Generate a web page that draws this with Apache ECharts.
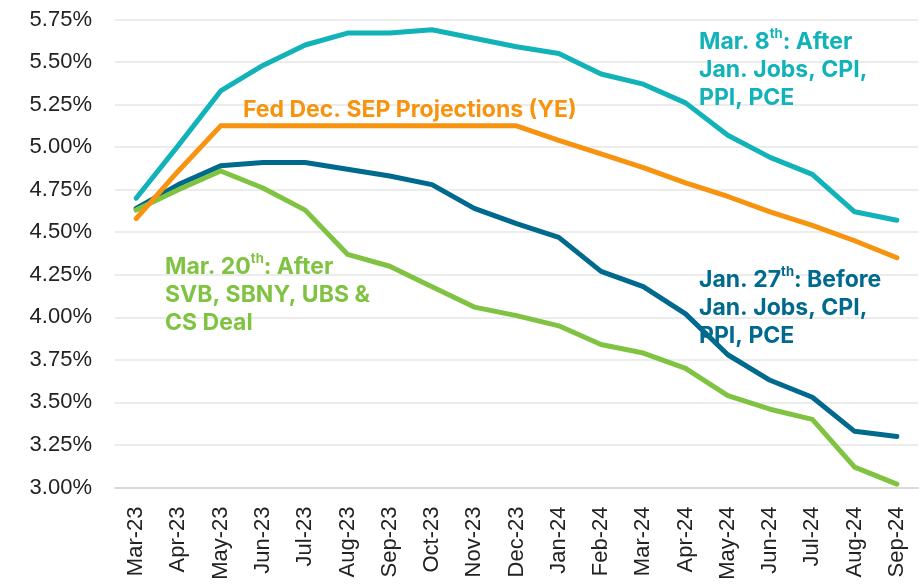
<!DOCTYPE html>
<html>
<head>
<meta charset="utf-8">
<script src="https://cdn.jsdelivr.net/npm/echarts@6/dist/echarts.min.js"></script>
<style>
html,body{margin:0;padding:0;background:#fff;}
#chart{width:920px;height:585px;}
</style>
</head>
<body>
<div id="chart"></div>
<script>
const categories = ['Mar-23','Apr-23','May-23','Jun-23','Jul-23','Aug-23','Sep-23','Oct-23','Nov-23','Dec-23','Jan-24','Feb-24','Mar-24','Apr-24','May-24','Jun-24','Jul-24','Aug-24','Sep-24'];
const mar8 = [4.70,5.01,5.33,5.48,5.60,5.67,5.67,5.69,5.64,5.59,5.55,5.43,5.37,5.26,5.07,4.94,4.84,4.62,4.57];
const fedSep = [4.58,4.86,5.125,5.125,5.125,5.125,5.125,5.125,5.125,5.125,5.04,4.96,4.88,4.79,4.71,4.62,4.54,4.45,4.35];
const jan27 = [4.64,4.78,4.89,4.91,4.91,4.87,4.83,4.78,4.64,4.55,4.47,4.27,4.18,4.02,3.78,3.63,3.53,3.33,3.30];
const mar20 = [4.63,4.75,4.86,4.76,4.63,4.37,4.30,4.18,4.06,4.01,3.95,3.84,3.79,3.70,3.54,3.46,3.40,3.12,3.02];
const yTicks = {min:3.00, max:5.75, interval:0.25};

const C_TEAL='#12b2b9', C_ORANGE='#f7930f', C_BLUE='#006a8e', C_GREEN='#80c342';
const FONT='Inter';

function lineSeries(name, data, color, z){
  return {name, type:'line', data, symbol:'none', z,
    lineStyle:{color, width:5, cap:'round', join:'round'}, animation:false};
}
function annot(text, left, top, color){
  return {type:'text', left, top, z:10,
    style:{text, fill:color, fontFamily:FONT, fontWeight:700, fontSize:23, lineHeight:28,
      rich:{sup:{fontFamily:FONT, fontWeight:700, fontSize:13, fill:color, verticalAlign:'top', lineHeight:18}}}};
}

const chart = echarts.init(document.getElementById('chart'), null, {renderer:'canvas'});
chart.setOption({
  animation:false,
  backgroundColor:'#ffffff',
  grid:{left:115, right:2, top:19.5, bottom:97.5},
  xAxis:{type:'category', data:categories, boundaryGap:true,
    axisLine:{lineStyle:{color:'#d9d9d9', width:2}}, axisTick:{show:false},
    axisLabel:{rotate:90, margin:19, color:'#222', fontFamily:'Liberation Sans', fontSize:22, interval:0}},
  yAxis:{type:'value', min:yTicks.min, max:yTicks.max, interval:yTicks.interval,
    axisLine:{show:false}, axisTick:{show:false},
    splitLine:{lineStyle:{color:'#ececec', width:2}},
    axisLabel:{margin:23, color:'#222', fontFamily:'Liberation Sans', fontSize:22,
      formatter:v=>v.toFixed(2)+'%'}},
  series:[
    lineSeries('Mar. 8th', mar8, C_TEAL, 2),
    lineSeries('Jan. 27th', jan27, C_BLUE, 3),
    lineSeries('Mar. 20th', mar20, C_GREEN, 4),
    lineSeries('Fed Dec. SEP', fedSep, C_ORANGE, 5)
  ],
  graphic:[
    annot('Fed Dec. SEP Projections (YE)', 243, 96, C_ORANGE),
    annot('Mar. 8{sup|th}: After\nJan. Jobs, CPI,\nPPI, PCE', 699, 28, C_TEAL),
    annot('Jan. 27{sup|th}: Before\nJan. Jobs, CPI,\nPPI, PCE', 699, 266, C_BLUE),
    annot('Mar. 20{sup|th}: After\nSVB, SBNY, UBS &\nCS Deal', 165, 253, C_GREEN)
  ]
});
</script>
</body>
</html>
